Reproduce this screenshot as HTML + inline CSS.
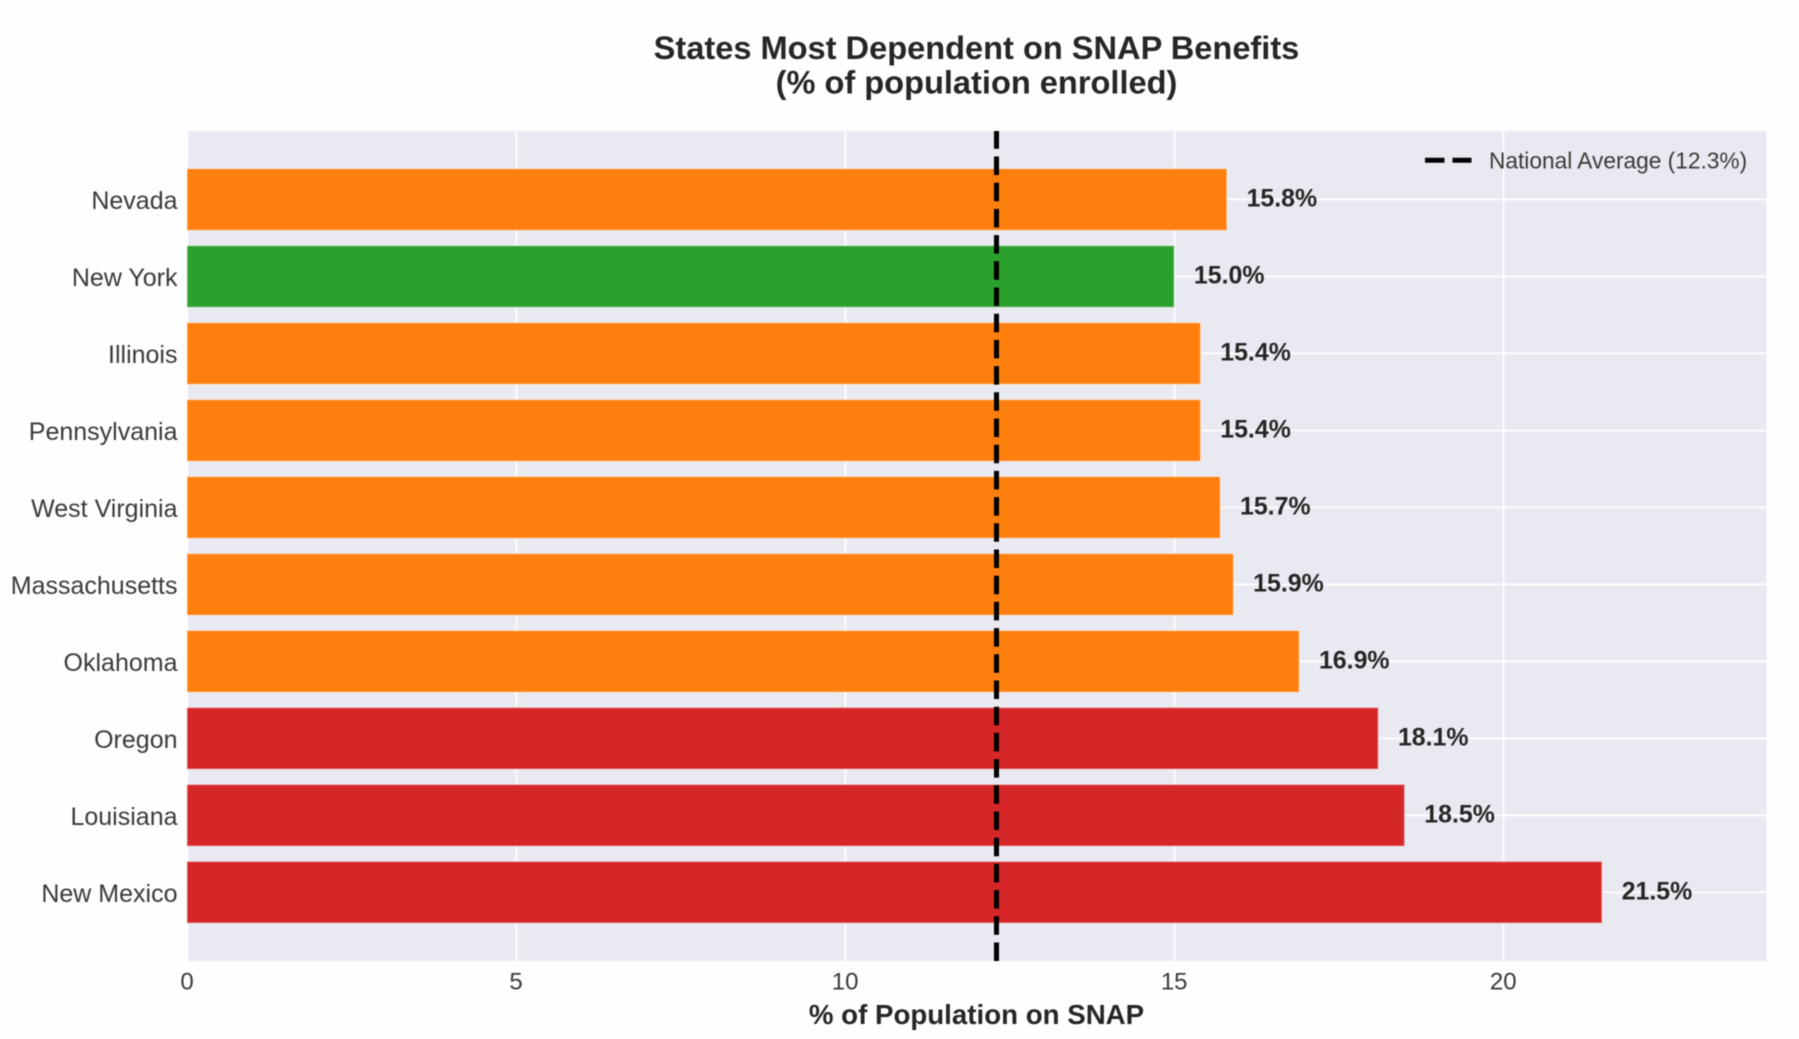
<!DOCTYPE html>
<html lang="en">
<head>
<meta charset="utf-8">
<title>States Most Dependent on SNAP Benefits</title>
<style>
html,body{margin:0;padding:0;background:#fefefe;width:1799px;height:1039px;overflow:hidden}
svg{display:block;filter:blur(0.45px)}
text{font-family:"Liberation Sans",Arial,sans-serif}
</style>
</head>
<body>
<svg id="chart" xmlns="http://www.w3.org/2000/svg" width="1799" height="1039" viewBox="0 0 1799 1039">
  <rect x="0" y="0" width="1799" height="1039" fill="#fefefe"/>
  <rect x="187.5" y="131" width="1579" height="830" fill="#e9e9f1"/>
  <g id="grid"></g>
  <g id="bars"></g>
  <g id="value-labels"></g>
  <g id="avg-line-group"></g>
  <g id="y-ticks"></g>
  <g id="x-ticks"></g>
  <text x="976.5" y="59" text-anchor="middle" font-size="32.6" font-weight="700" fill="#262626">States Most Dependent on SNAP Benefits</text>
  <text x="976.5" y="93.3" text-anchor="middle" font-size="32.6" font-weight="700" fill="#262626">(% of population enrolled)</text>
  <text x="976.5" y="1024" text-anchor="middle" font-size="27.7" font-weight="700" fill="#262626">% of Population on SNAP</text>
  <g>
    <line x1="1425" y1="160.3" x2="1471.5" y2="160.3" stroke="#000" stroke-width="5" stroke-dasharray="19.5 8"/>
    <text x="1489" y="168.5" font-size="22.7" fill="#3a3a3a">National Average (12.3%)</text>
  </g>
</svg>
<script>
const categories = ["Nevada","New York","Illinois","Pennsylvania","West Virginia","Massachusetts","Oklahoma","Oregon","Louisiana","New Mexico"];
const enrollmentPct = [15.8,15.0,15.4,15.4,15.7,15.9,16.9,18.1,18.5,21.5];
const xTickValues = [0,5,10,15,20];
const nationalAverage = [12.3];

const NS = "http://www.w3.org/2000/svg";
const plot = {left:187,right:1766.5,top:131,bottom:961};
const xMax = 24;
const firstRowY = 199.5, rowStep = 76.98, barHeightFrac = 0.8;
function xScale(v){ return plot.left + v * (plot.right - plot.left) / xMax; }
function yScale(i){ return firstRowY + i * rowStep; }
function barColor(v){ return v > 18 ? "#d62728" : v > 15 ? "#ff7f0e" : "#2ca02c"; }
function slug(s){ return s.toLowerCase().replace(/\s+/g,"-"); }
function make(tag, attrs, parent, text){
  const el = document.createElementNS(NS, tag);
  for (const k in attrs) el.setAttribute(k, attrs[k]);
  if (text !== undefined) el.textContent = text;
  parent.appendChild(el);
  return el;
}
const gGrid = document.getElementById("grid");
const gBars = document.getElementById("bars");
const gVals = document.getElementById("value-labels");
const gAvg = document.getElementById("avg-line-group");
const gY = document.getElementById("y-ticks");
const gX = document.getElementById("x-ticks");

xTickValues.forEach(function(t){
  const x = xScale(t) + 0.3;
  const gl = make("line",{x1:x,x2:x,y1:plot.top,y2:plot.bottom,stroke:"#fff","stroke-width":1.7},gGrid);
  
  
  const lab = make("text",{x:xScale(t),y:989.3,"text-anchor":"middle","font-size":24,fill:"#3a3a3a"},gX,String(t));
  
  
});
categories.forEach(function(c,i){
  const v = enrollmentPct[i];
  const y = yScale(i);
  const h = rowStep * barHeightFrac;
  const gl = make("line",{x1:plot.left,x2:plot.right,y1:y,y2:y,stroke:"#fff","stroke-width":1.7},gGrid);
  
  
  const bar = make("rect",{x:xScale(0),y:y-h/2,width:xScale(v)-xScale(0),height:h,fill:barColor(v),stroke:"#fff","stroke-opacity":0.35,"stroke-width":1.4},gBars);
  
  
  const val = make("text",{x:xScale(v+0.3),y:y+7,"font-size":24.9,"font-weight":700,fill:"#262626"},gVals,v.toFixed(1)+"%");
  
  
  const lab = make("text",{x:177.5,y:y+9.6,"text-anchor":"end","font-size":25,fill:"#3a3a3a"},gY,c);
  
  
});
const avgX = xScale(nationalAverage[0]);
const avg = make("line",{x1:avgX,x2:avgX,y1:plot.bottom,y2:plot.top,stroke:"#000","stroke-width":5,"stroke-dasharray":"18.5 7.7"},gAvg);


</script>
</body>
</html>
